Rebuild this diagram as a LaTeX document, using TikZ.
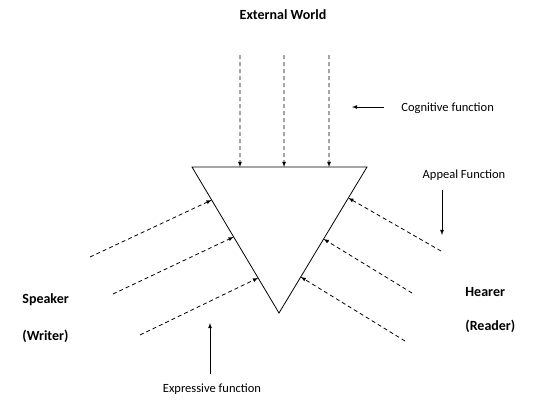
\documentclass[tikz,border=0pt]{standalone}
\usepackage{fontspec}
\setmainfont{Carlito}
\usetikzlibrary{arrows,calc,positioning}

\begin{document}
\begin{tikzpicture}[x=1pt, y=-1pt, >=latex, line width=0.8pt,
  font=\fontsize{12.5}{14}\selectfont,
  flow/.style={->, dash pattern=on 4pt off 3pt},
  pointer/.style={->},
  party/.style={anchor=west, inner sep=0pt, font=\fontsize{14}{16}\selectfont\bfseries}]
\useasboundingbox (0,0) rectangle (541,407);
\coordinate (tl) at (192,167);
\coordinate (tr) at (367,167);
\coordinate (b) at (279,313);
\draw (tl) -- (tr) -- (b) -- cycle;

\node[inner sep=0pt, font=\fontsize{14}{16}\selectfont\bfseries] (world) at (283,15) {External World};
\node[anchor=west, inner sep=0pt] (cog) at (401,108) {Cognitive function};
\node[inner sep=0pt] (appeal) at (464,175) {Appeal Function};
\node[inner sep=0pt] (expr) at (212,389) {Expressive function};
\node[party] (spk) at (22,300) {Speaker};
\node[party] (wrt) at (22,336) {(Writer)};
\node[party] (hrr) at (465,292) {Hearer};
\node[party] (rdr) at (465,326) {(Reader)};

% external world
\foreach \x/\f in {240/0.274, 284/0.526, 329/0.783}
  \draw[flow] (\x,55) -- ($(tl)!\f!(tr)$);
% speaker side
\coordinate (s1) at (90,257);
\coordinate (s2) at (113,294);
\coordinate (s3) at (140,335);
\path[flow] (s1) edge ($(tl)!0.226!(b)$)
            (s2) edge ($(tl)!0.479!(b)$)
            (s3) edge ($(tl)!0.76!(b)$);
% hearer side
\coordinate (h1) at (441,251);
\coordinate (h2) at (412,293);
\coordinate (h3) at (405,341);
\path[flow] (h1) edge ($(tr)!0.212!(b)$)
            (h2) edge ($(tr)!0.493!(b)$)
            (h3) edge ($(tr)!0.753!(b)$);
% function arrows
\coordinate (c1) at (384,107);
\coordinate (c2) at (352,107);
\coordinate (a1) at (442,190);
\coordinate (a2) at (442,235);
\coordinate (e1) at (210,374);
\coordinate (e2) at (210,323);
\path[pointer] (c1) edge (c2)
               (a1) edge (a2)
               (e1) edge (e2);
\end{tikzpicture}
\end{document}
